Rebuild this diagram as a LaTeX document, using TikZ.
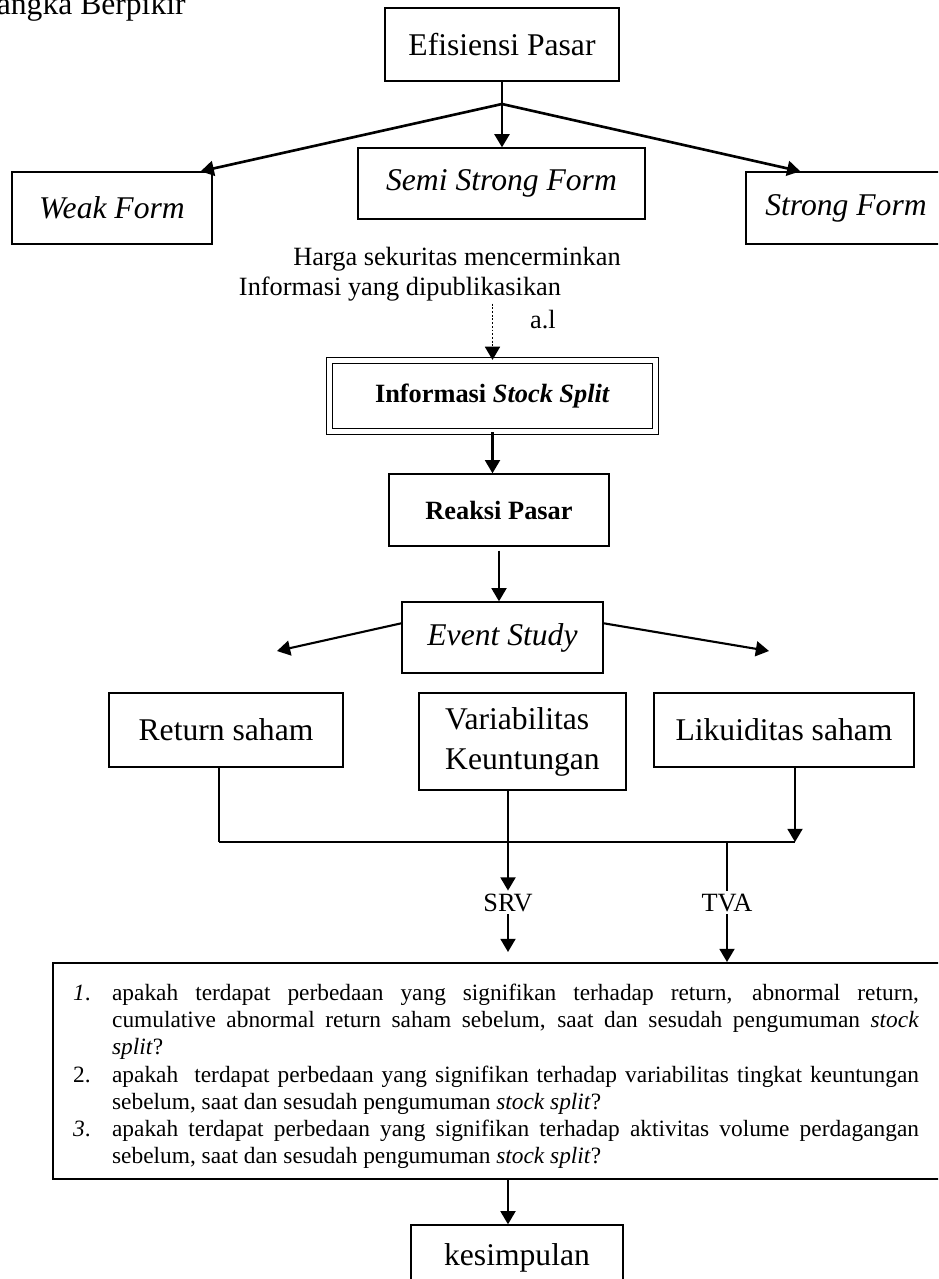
\documentclass[tikz,border=0pt]{standalone}
\usepackage{fontspec}
\setmainfont{Liberation Serif}
\usetikzlibrary{arrows.meta}

\newcommand{\butir}[1]{\par\noindent\hangindent=0.78cm\hangafter=1\makebox[0.78cm][l]{#1}}

\begin{document}
\begin{tikzpicture}
[x=0.02cm, y=-0.02cm,
  mybox/.style={rectangle, draw=black, line width=0.8pt, inner sep=2pt, font=\fontsize{18}{22}\selectfont},
  boldbox/.style={mybox, font=\fontsize{15}{18}\selectfont\bfseries},
  qbox/.style={rectangle, draw=black, line width=1.3pt, inner xsep=0.4cm, inner ysep=0.2cm, text width=18cm, align=justify, font=\fontsize{13.3}{15.5}\selectfont},
  mytext/.style={inner sep=1.5pt, font=\fontsize{15}{18}\selectfont},
  myarrow/.style={-{Triangle[length=7.5pt, width=8.5pt]}, line width=1.2pt},
  myline/.style={line width=0.9pt}
]
  \useasboundingbox (0,0) rectangle (938,1279);
  \clip (0,0) rectangle (938,1279);

  \node[anchor=base east, inner sep=0pt, font=\fontsize{18}{22}\selectfont] (judul) at (186,14) {angka Berpikir};

  % bentuk efisiensi pasar
  \node[mybox, minimum width=4.68cm, minimum height=1.46cm] (efisiensi) at (502,44.5) {Efisiensi Pasar};
  \node[mybox, minimum width=5.74cm, minimum height=1.42cm] (semi) at (501.5,183.5) {\textit{Semi Strong Form}};
  \node[mybox, minimum width=4cm, minimum height=1.44cm] (weak) at (112,208) {\textit{Weak Form}};
  \node[mybox, minimum width=4cm, minimum height=1.44cm] (strong) at (846,208) {\textit{Strong Form}};
  \coordinate (cabang) at (502,104);

  \draw[line width=1.5pt] (efisiensi.south) -- (cabang);
  \draw[myarrow, line width=1.5pt] (cabang) -- (cabang |- semi.north);
  \draw[myarrow, line width=1.5pt] (cabang) -- ([xshift=-0.24cm]weak.north east);
  \draw[myarrow, line width=1.5pt] (cabang) -- ([xshift=1.1cm]strong.north west);

  \node[mytext, anchor=base] (harga) at (457,265) {Harga sekuritas mencerminkan};
  \node[mytext, anchor=base] (publikasi) at (400,295) {Informasi yang dipublikasikan};
  \node[mytext, anchor=base] (al) at (543,328) {a.l};

  \node[boldbox, line width=0.7pt, double, double distance=2.5pt, minimum width=6.52cm, minimum height=1.42cm] (stocksplit) at (492.5,396) {Informasi \textit{Stock Split}};
  \draw[densely dotted, line width=1.1pt, -{Triangle[length=7.5pt, width=8.5pt]}] (publikasi.south -| stocksplit.north) -- (stocksplit.north);

  \node[boldbox, minimum width=4.4cm, minimum height=1.44cm] (reaksi) at (499,510) {Reaksi Pasar};
  \node[mybox, minimum width=4.02cm, minimum height=1.42cm] (event) at (502.5,637.5) {\textit{Event Study}};
  \draw[myarrow] (stocksplit.south) -- (stocksplit.south |- reaksi.north);
  \draw[myarrow] ([yshift=-0.08cm]reaksi.south) -- (reaksi.south |- event.north);

  \coordinate (eventkiri) at (277,651);
  \coordinate (eventkanan) at (769,651);
  \draw[myarrow] (event.172) -- (eventkiri);
  \draw[myarrow] (event.8) -- (eventkanan);

  % variabel
  \node[mybox, minimum width=4.68cm, minimum height=1.48cm] (return) at (226,730) {Return saham};
  \node[mybox, minimum width=4.14cm, minimum height=1.94cm, align=left, font=\fontsize{18}{22.7}\selectfont] (variabilitas) at (522.5,741.5) {Variabilitas\\Keuntungan};
  \node[mybox, minimum width=5.2cm, minimum height=1.48cm] (likuiditas) at (784,730) {Likuiditas saham};

  \coordinate (buskiri) at (219,842);
  \coordinate (buskanan) at (795,842);
  \draw[myline] (return.south -| buskiri) -- (buskiri);
  \draw[line width=1.2pt] (buskiri) -- (buskanan);
  \draw[myarrow] (likuiditas.south -| buskanan) -- (buskanan);

  \node[mytext, anchor=base] (srv) at (508,911) {SRV};
  \node[mytext, anchor=base] (tva) at (727,911) {TVA};
  \coordinate (srvujung) at (508,952);
  \draw[myarrow] (variabilitas.south -| srv) -- (srv.north);
  \draw[myarrow] (srv.south) -- (srvujung);
  \draw[myline] (tva |- buskiri) -- (tva.north);

  % rumusan masalah
  \node[qbox, anchor=north west, minimum height=4.32cm] (pertanyaan) at (52,962) {%
    \rightskip=1.08cm \tolerance=9999
    \butir{\textit{1}.}apakah terdapat perbedaan yang signifikan terhadap return, abnormal return,\linebreak
    cumulative abnormal return saham sebelum, saat dan sesudah pengumuman \textit{stock}\linebreak
    \textit{split}?
    \butir{2.}apakah\ \ terdapat perbedaan yang signifikan terhadap variabilitas tingkat keuntungan\linebreak
    sebelum, saat dan sesudah pengumuman \textit{stock split}?
    \butir{\textit{3}.}apakah terdapat perbedaan yang signifikan terhadap aktivitas volume perdagangan\linebreak
    sebelum, saat dan sesudah pengumuman \textit{stock split}?\par};
  \draw[myarrow] (tva.south) -- (tva.south |- pertanyaan.north);

  \node[mybox, minimum width=4.24cm, minimum height=1.32cm] (kesimpulan) at (517,1258) {kesimpulan};
  \draw[myarrow] (pertanyaan.south -| srv) -- (srv |- kesimpulan.north);
\end{tikzpicture}
\end{document}
